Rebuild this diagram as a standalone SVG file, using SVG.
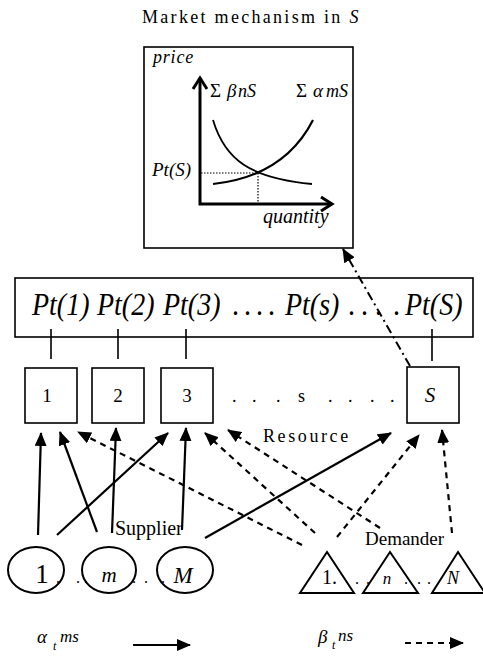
<svg xmlns="http://www.w3.org/2000/svg" width="483" height="662" viewBox="0 0 483 662" font-family="'Liberation Serif', serif">
  <style>
    text { font-family: 'Liberation Serif', serif; fill: #000; }
    .it { font-style: italic; }
    .box { fill: #fff; stroke: #000; stroke-width: 1.6; }
    .node { fill: #fff; stroke: #000; stroke-width: 2; }
    .solid { stroke: #000; stroke-width: 2.2; fill: none; marker-end: url(#head); }
    .dash { stroke: #000; stroke-width: 2.2; fill: none; stroke-dasharray: 6 5; marker-end: url(#head); }
    .dashdot { stroke: #000; stroke-width: 2; fill: none; stroke-dasharray: 9 4 2 4; marker-end: url(#head); }
    .axis { stroke: #000; stroke-width: 3; fill: none; }
    .dot { stroke: #000; stroke-width: 1.2; stroke-dasharray: 1.5 1.5; fill: none; }
  </style>
  <defs>
    <marker id="head" markerUnits="userSpaceOnUse" markerWidth="14" markerHeight="12" refX="13" refY="6" orient="auto">
      <path d="M0,0 L14,6 L0,12 Z" fill="#000" stroke="none"/>
    </marker>
  </defs>

  <rect width="483" height="662" fill="#fff"/>

  <!-- market mechanism panel -->
  <g id="market">
    <text x="142" y="23" font-size="18" letter-spacing="2.3">Market mechanism in <tspan class="it">S</tspan></text>
    <rect class="box" x="144" y="47" width="209" height="201"/>
    <text class="it" x="153" y="63" font-size="18" letter-spacing="0.8">price</text>
    <path class="axis" d="M200,78 V204 H332"/>
    <path class="axis" stroke-width="2" d="M193,89 L200,78 L207,89"/>
    <path class="axis" stroke-width="2" d="M321,197 L332,204 L321,211"/>
    <text x="210" y="97" font-size="19">Σ</text>
    <text class="it" x="227" y="97" font-size="19">β</text>
    <text class="it" x="238" y="97" font-size="18">nS</text>
    <text x="296" y="97" font-size="19">Σ</text>
    <text class="it" x="313" y="97" font-size="19">α</text>
    <text class="it" x="326" y="97" font-size="18">mS</text>
    <path d="M213,120 C225,160 250,178 312,184" stroke="#000" stroke-width="1.8" fill="none"/>
    <path d="M213,184 C250,180 290,165 313,120" stroke="#000" stroke-width="2.2" fill="none"/>
    <path class="dot" d="M201,173 H258 V203"/>
    <text class="it" x="152" y="176" font-size="19">Pt(S)</text>
    <text class="it" x="263" y="223" font-size="20">quantity</text>
  </g>

  <!-- price row -->
  <g id="price-row">
    <rect class="box" x="15" y="278" width="458" height="59" stroke-width="2"/>
    <g transform="translate(0,315) scale(1,1.15)">
      <text class="it" x="32" y="0" font-size="28">Pt(1)</text>
      <text class="it" x="97" y="0" font-size="28">Pt(2)</text>
      <text class="it" x="163" y="0" font-size="28">Pt(3)</text>
      <text x="232 244 256 268" y="0" font-size="28">....</text>
      <text class="it" x="285" y="0" font-size="28">Pt(s)</text>
      <text x="348 361 375 393" y="0" font-size="28">....</text>
      <text class="it" x="405" y="0" font-size="28">Pt(S)</text>
    </g>
    <path d="M51,329 V359 M118,329 V359 M186,329 V359 M432,329 V361" stroke="#000" stroke-width="1.6"/>
  </g>

  <!-- resources -->
  <g id="resource-1">
    <rect class="box" x="25" y="368" width="52" height="55"/>
    <text x="47" y="402" font-size="19" text-anchor="middle">1</text>
  </g>
  <g id="resource-2">
    <rect class="box" x="92" y="368" width="52" height="55"/>
    <text x="118" y="402" font-size="19" text-anchor="middle">2</text>
  </g>
  <g id="resource-3">
    <rect class="box" x="161" y="368" width="52" height="55"/>
    <text x="187" y="402" font-size="19" text-anchor="middle">3</text>
  </g>
  <g id="resource-dots">
    <text x="232 252 276 298 328 348 370 390" y="402" font-size="18">...s....</text>
  </g>
  <g id="resource-S">
    <rect class="box" x="407" y="367" width="52" height="56"/>
    <text class="it" x="430" y="402" font-size="21" text-anchor="middle">S</text>
  </g>

  <!-- suppliers -->
  <g id="supplier-1">
    <ellipse class="node" cx="36" cy="570" rx="28" ry="23"/>
    <text x="42" y="583" font-size="27" text-anchor="middle">1</text>
  </g>
  <g id="supplier-m">
    <ellipse class="node" cx="109" cy="570" rx="27" ry="23"/>
    <text class="it" x="109" y="582" font-size="21" text-anchor="middle">m</text>
  </g>
  <g id="supplier-M">
    <ellipse class="node" cx="185" cy="570" rx="28" ry="23"/>
    <text class="it" x="183" y="583" font-size="23" text-anchor="middle">M</text>
  </g>
  <g id="supplier-dots" font-size="16">
    <text x="56 76 84" y="583">...</text>
    <text x="132 144 161" y="583">...</text>
  </g>

  <!-- demanders -->
  <g id="demander-1">
    <path class="node" stroke-width="1.6" d="M327,552 L354,593 L300,593 Z"/>
    <text x="322" y="584" font-size="20">1.</text>
  </g>
  <g id="demander-n">
    <path class="node" stroke-width="1.6" d="M390,552 L418,593 L363,593 Z"/>
    <text class="it" x="387" y="584" font-size="17" text-anchor="middle">n</text>
  </g>
  <g id="demander-N">
    <path class="node" stroke-width="1.6" d="M458,552 L485,593 L432,593 Z"/>
    <text class="it" x="453" y="584" font-size="18" text-anchor="middle">N</text>
  </g>
  <g id="demander-dots" font-size="16">
    <text x="355 366" y="584">..</text>
    <text x="404 417 427" y="584">...</text>
  </g>

  <!-- group labels -->
  <text x="263" y="442" font-size="18" letter-spacing="2.6">Resource</text>
  <text x="115" y="535" font-size="20">Supplier</text>
  <text x="365" y="545" font-size="19">Demander</text>

  <!-- connectors -->
  <g id="connectors">
    <path class="solid" d="M38,535 L41,433"/>
    <path class="solid" d="M97,532 L60,432"/>
    <path class="solid" d="M112,533 L116,428"/>
    <path class="solid" d="M57,535 L168,433"/>
    <path class="solid" d="M182,530 L186,428"/>
    <path class="solid" d="M205,538 L391,433"/>
    <path class="dash" d="M302,545 L78,432"/>
    <path class="dash" d="M315,533 L205,433"/>
    <path class="dash" d="M380,528 L228,430"/>
    <path class="dash" d="M337,537 L419,435"/>
    <path class="dash" d="M452,533 L442,430"/>
    <path class="dashdot" d="M410,366 L343,249"/>
  </g>

  <!-- legend -->
  <g id="legend">
    <text class="it" x="37" y="643" font-size="19">α</text>
    <text class="it" x="53" y="650" font-size="12">t</text>
    <text class="it" x="60" y="642" font-size="17">ms</text>
    <path class="solid" d="M133,645 L190,645"/>
    <text class="it" x="318" y="643" font-size="19">β</text>
    <text class="it" x="332" y="649" font-size="12">t</text>
    <text class="it" x="338" y="641" font-size="17">ns</text>
    <path class="dash" d="M405,643 L463,643"/>
  </g>
</svg>
